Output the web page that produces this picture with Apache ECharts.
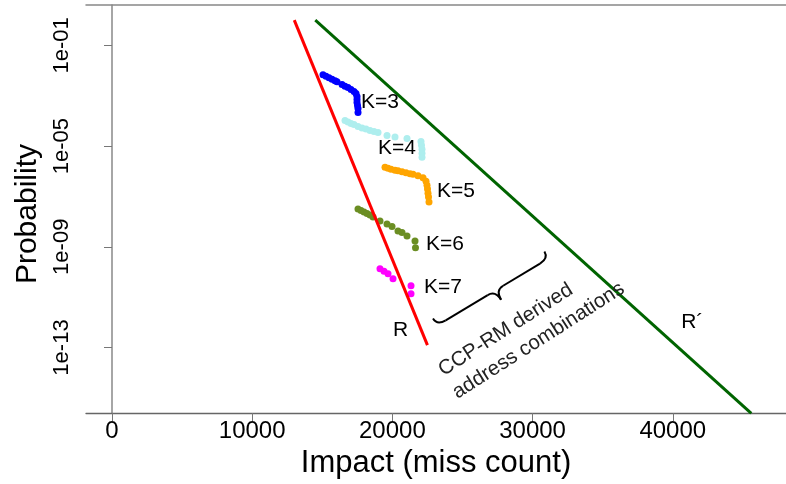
<!DOCTYPE html>
<html><head><meta charset="utf-8">
<script src="https://cdn.jsdelivr.net/npm/echarts@6/dist/echarts.min.js"></script>
<style>html,body{margin:0;padding:0;background:#fff}#c{width:786px;height:484px}</style>
</head><body><div id="c"></div>
<script>
// ---- tick labels ----
const xTickValues = [0, 10000, 20000, 30000, 40000];
const xTickLabels = ['0', '10000', '20000', '30000', '40000'];
const yTickValues = [1e-13, 1e-9, 1e-5, 1e-1];
const yTickLabels = ['1e-13', '1e-09', '1e-05', '1e-01'];

// ---- series values: [impact (miss count), probability] ----
const k3 = [[15050,6.82e-3],[15265,5.96e-3],[15479,5.19e-3],[15693,4.53e-3],[15907,3.95e-3],[16049,3.61e-3],
  [16406,2.75e-3],[16620,2.39e-3],[16834,2.09e-3],[17048,1.74e-3],[17262,1.45e-3],[17405,1.21e-3],
  [17476,9.2e-4],[17476,7.0e-4],[17476,5.33e-4],[17512,4.06e-4],[17548,3.09e-4],[17548,2.15e-4]];
const k4 = [[16620,1.04e-4],[16834,9.06e-5],[17048,7.89e-5],[17262,7.21e-5],[17547,6.01e-5],[17832,5.24e-5],
  [18118,4.79e-5],[18403,4.18e-5],[18688,3.81e-5],[18974,3.48e-5],[19616,2.65e-5],[20186,2.31e-5],
  [21042,2.01e-5],[22040,1.53e-5],[22076,1.07e-5],[22112,7.41e-6],[22112,5.14e-6],[22112,3.57e-6]];
const k5 = [[19473,1.44e-6],[19687,1.32e-6],[19901,1.20e-6],[20186,1.10e-6],[20400,1.05e-6],[20686,9.55e-7],
  [20971,8.73e-7],[21256,7.96e-7],[21470,7.60e-7],[21827,6.64e-7],[22184,5.53e-7],[22398,4.03e-7],
  [22469,2.80e-7],[22505,1.95e-7],[22540,1.35e-7],[22576,9.38e-8],[22612,5.96e-8]];
const k6 = [[17547,3.15e-8],[17761,2.75e-8],[17975,2.39e-8],[18189,2.09e-8],[18403,1.82e-8],[18617,1.52e-8],
  [19116,1.06e-8],[19616,8.04e-9],[19972,6.40e-9],[20400,4.25e-9],[20686,3.71e-9],[21042,2.70e-9],
  [21613,1.71e-9],[21648,9.06e-10]];
const k7 = [[19116,1.34e-10],[19402,1.07e-10],[19687,8.49e-11],[20044,5.38e-11],[21328,2.85e-11],[21328,1.37e-11]];
const lineR = [[13000,1.0],[22500,1.25e-13]];
const lineRprime = [[14500,1.0],[45600,2.4e-16]];

// ---- annotation anchors (data coordinates) ----
const pointLabels = [
  {text:'K=3', at:[17760,5.58e-4]},
  {text:'K=4', at:[18974,8.11e-6]},
  {text:'K=5', at:[23182,1.55e-7]},
  {text:'K=6', at:[22398,1.25e-9]},
  {text:'K=7', at:[22255,2.37e-11]},
  {text:'R',   at:[20044,4.74e-13]},
  {text:'R\u00B4', at:[40600,9.8e-13]}
];
const noteLines = [
  {text:'CCP-RM derived', at:[23824,5.0e-15]},
  {text:'address combinations', at:[24823,6.2e-16]}
];
const braceAnchor = [22897,1.41e-12];

const FONT = '"Liberation Sans", Arial, Helvetica, sans-serif';
const chart = echarts.init(document.getElementById('c'), null, {renderer:'canvas'});

function yFmt(v){
  const i = yTickValues.findIndex(t => Math.abs(Math.log10(t) - Math.log10(v)) < 1e-6);
  return i >= 0 ? yTickLabels[i] : '';
}
function xFmt(v){
  const i = xTickValues.indexOf(v);
  return i >= 0 ? xTickLabels[i] : '';
}

function scatter(data, color){
  return {type:'scatter', data, symbolSize:7, itemStyle:{color, opacity:1}, silent:true, z:2};
}

const X_MIN = -1855, X_MAX = 48076;
chart.setOption({
  animation:false,
  backgroundColor:'#fff',
  grid:{left:86, right:0, top:5, bottom:69, show:false},
  xAxis:[{type:'value', min:X_MIN, max:X_MAX,
    axisLine:{show:true, onZero:false, lineStyle:{color:'#666', width:1.3}},
    axisTick:{show:true, length:8, lineStyle:{color:'#777'}, customValues:xTickValues},
    axisLabel:{customValues:xTickValues, formatter:xFmt, color:'#000', fontSize:24, fontFamily:FONT, margin:6},
    splitLine:{show:false},
    name:'Impact (miss count)', nameLocation:'middle', nameGap:29,
    nameTextStyle:{color:'#000', fontSize:31, fontFamily:FONT}
  },{type:'value', position:'top', min:X_MIN, max:X_MAX,
    axisLine:{show:true, onZero:false, lineStyle:{color:'#888', width:1.5}},
    axisTick:{show:false}, axisLabel:{show:false}, splitLine:{show:false}
  }],
  yAxis:{type:'log', logBase:10, min:Math.pow(10,-15.605), max:Math.pow(10,0.601),
    axisLine:{show:true, lineStyle:{color:'#888', width:1.5}},
    axisTick:{show:true, length:8, lineStyle:{color:'#777'}, customValues:yTickValues},
    axisLabel:{customValues:yTickValues, formatter:yFmt, rotate:90, color:'#000', fontSize:22, fontFamily:FONT, margin:13},
    splitLine:{show:false}, minorTick:{show:false},
    name:'Probability', nameLocation:'middle', nameGap:43,
    nameTextStyle:{color:'#000', fontSize:30, fontFamily:FONT, padding:[0,10,0,0]}
  },
  series:[
    scatter(k3,'#0000ff'),
    scatter(k4,'#aeeeee'),
    scatter(k5,'#ffa500'),
    scatter(k6,'#6b8e23'),
    scatter(k7,'#ff00ff'),
    {type:'line', data:lineR, symbol:'none', lineStyle:{color:'#ff0000', width:3}, silent:true, z:3},
    {type:'line', data:lineRprime, symbol:'none', lineStyle:{color:'#006400', width:3}, silent:true, z:3}
  ]
});

const px = p => chart.convertToPixel({xAxisIndex:0, yAxisIndex:0}, p);
const graphics = [];
pointLabels.forEach(l => {
  const p = px(l.at);
  graphics.push({type:'text', x:p[0], y:p[1], silent:true, z:10,
    style:{text:l.text, fill:'#000', fontSize:21, fontFamily:FONT, align:'left', verticalAlign:'middle'}});
});
const th = 32.5*Math.PI/180;
noteLines.forEach(l => {
  const p = px(l.at);
  graphics.push({type:'text', x:p[0], y:p[1], rotation:th, silent:true, z:10,
    style:{text:l.text, fill:'#222', fontSize:20.5, fontFamily:FONT, align:'left', verticalAlign:'bottom'}});
});
const b = px(braceAnchor);
const bs = {stroke:'#000', lineWidth:2, fill:null};
const L = 130, run = 8, tip = 19, h = L/2 + 3;
graphics.push({type:'group', x:b[0], y:b[1], rotation:31*Math.PI/180, z:10, silent:true, children:[
  {type:'bezierCurve', shape:{x1:0,y1:0,cpx1:0,cpy1:run,x2:10,y2:run}, style:bs},
  {type:'line', shape:{x1:10,y1:run,x2:h-9,y2:run}, style:bs},
  {type:'bezierCurve', shape:{x1:h-9,y1:run,cpx1:h,cpy1:run,x2:h,y2:tip}, style:bs},
  {type:'bezierCurve', shape:{x1:h,y1:tip,cpx1:h,cpy1:run,x2:h+9,y2:run}, style:bs},
  {type:'line', shape:{x1:h+9,y1:run,x2:L-10,y2:run}, style:bs},
  {type:'bezierCurve', shape:{x1:L-10,y1:run,cpx1:L,cpy1:run,x2:L,y2:0}, style:bs}
]});
chart.setOption({graphic:graphics});
</script>
</body></html>
